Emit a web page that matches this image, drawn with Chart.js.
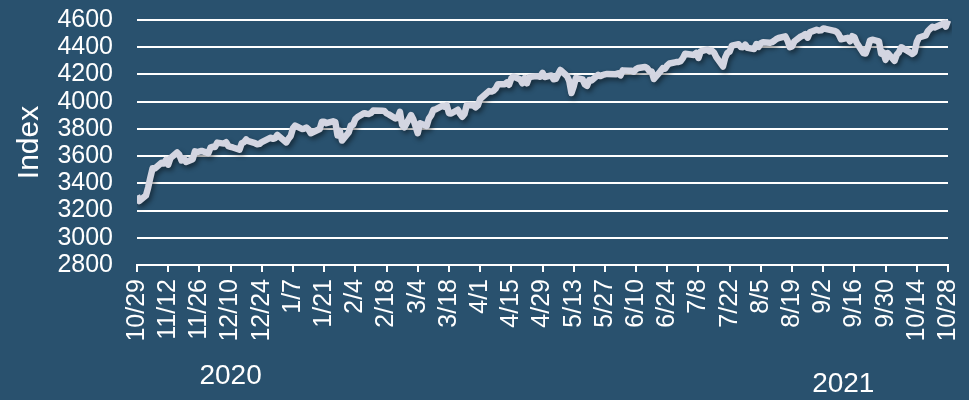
<!DOCTYPE html>
<html>
<head>
<meta charset="utf-8">
<script src="https://cdn.jsdelivr.net/npm/chart.js@4/dist/chart.umd.min.js"></script>
<style>
  html, body { margin: 0; padding: 0; background: #29516e; }
  #wrap { width: 969px; height: 400px; position: relative; }
</style>
</head>
<body>
<div id="wrap"><canvas id="chart"></canvas></div>
<script>
// ── Data ──────────────────────────────────────────────────
const startDate = '2020-10-29';

const dates = [
  '2020-10-29','2020-10-30',
  '2020-11-02','2020-11-03','2020-11-04','2020-11-05','2020-11-06','2020-11-09','2020-11-10','2020-11-11','2020-11-12','2020-11-13',
  '2020-11-16','2020-11-17','2020-11-18','2020-11-19','2020-11-20','2020-11-23','2020-11-24','2020-11-25','2020-11-27','2020-11-30',
  '2020-12-01','2020-12-02','2020-12-03','2020-12-04','2020-12-07','2020-12-08','2020-12-09','2020-12-10','2020-12-11','2020-12-14',
  '2020-12-15','2020-12-16','2020-12-17','2020-12-18','2020-12-21','2020-12-22','2020-12-23','2020-12-24','2020-12-28','2020-12-29',
  '2020-12-30','2020-12-31',
  '2021-01-04','2021-01-05','2021-01-06','2021-01-07','2021-01-08','2021-01-11','2021-01-12','2021-01-13','2021-01-14','2021-01-15',
  '2021-01-19','2021-01-20','2021-01-21','2021-01-22','2021-01-25','2021-01-26','2021-01-27','2021-01-28','2021-01-29',
  '2021-02-01','2021-02-02','2021-02-03','2021-02-04','2021-02-05','2021-02-08','2021-02-09','2021-02-10','2021-02-11','2021-02-12',
  '2021-02-16','2021-02-17','2021-02-18','2021-02-19','2021-02-22','2021-02-23','2021-02-24','2021-02-25','2021-02-26',
  '2021-03-01','2021-03-02','2021-03-03','2021-03-04','2021-03-05','2021-03-08','2021-03-09','2021-03-10','2021-03-11','2021-03-12',
  '2021-03-15','2021-03-16','2021-03-17','2021-03-18','2021-03-19','2021-03-22','2021-03-23','2021-03-24','2021-03-25','2021-03-26',
  '2021-03-29','2021-03-30','2021-03-31',
  '2021-04-01','2021-04-05','2021-04-06','2021-04-07','2021-04-08','2021-04-09','2021-04-12','2021-04-13','2021-04-14','2021-04-15',
  '2021-04-16','2021-04-19','2021-04-20','2021-04-21','2021-04-22','2021-04-23','2021-04-26','2021-04-27','2021-04-28','2021-04-29',
  '2021-04-30',
  '2021-05-03','2021-05-04','2021-05-05','2021-05-06','2021-05-07','2021-05-10','2021-05-11','2021-05-12','2021-05-13','2021-05-14',
  '2021-05-17','2021-05-18','2021-05-19','2021-05-20','2021-05-21','2021-05-24','2021-05-25','2021-05-26','2021-05-27','2021-05-28',
  '2021-06-01','2021-06-02','2021-06-03','2021-06-04','2021-06-07','2021-06-08','2021-06-09','2021-06-10','2021-06-11','2021-06-14',
  '2021-06-15','2021-06-16','2021-06-17','2021-06-18','2021-06-21','2021-06-22','2021-06-23','2021-06-24','2021-06-25','2021-06-28',
  '2021-06-29','2021-06-30',
  '2021-07-01','2021-07-02','2021-07-06','2021-07-07','2021-07-08','2021-07-09','2021-07-12','2021-07-13','2021-07-14','2021-07-15',
  '2021-07-16','2021-07-19','2021-07-20','2021-07-21','2021-07-22','2021-07-23','2021-07-26','2021-07-27','2021-07-28','2021-07-29',
  '2021-07-30',
  '2021-08-02','2021-08-03','2021-08-04','2021-08-05','2021-08-06','2021-08-09','2021-08-10','2021-08-11','2021-08-12','2021-08-13',
  '2021-08-16','2021-08-17','2021-08-18','2021-08-19','2021-08-20','2021-08-23','2021-08-24','2021-08-25','2021-08-26','2021-08-27',
  '2021-08-30','2021-08-31',
  '2021-09-01','2021-09-02','2021-09-03','2021-09-07','2021-09-08','2021-09-09','2021-09-10','2021-09-13','2021-09-14','2021-09-15',
  '2021-09-16','2021-09-17','2021-09-20','2021-09-21','2021-09-22','2021-09-23','2021-09-24','2021-09-27','2021-09-28','2021-09-29',
  '2021-09-30',
  '2021-10-01','2021-10-04','2021-10-05','2021-10-06','2021-10-07','2021-10-08','2021-10-11','2021-10-12','2021-10-13','2021-10-14',
  '2021-10-15','2021-10-18','2021-10-19','2021-10-20','2021-10-21','2021-10-22','2021-10-25','2021-10-26','2021-10-27','2021-10-28'
];

const indexValues = [
  3310.11, 3269.96,
  3310.24, 3369.16, 3443.44, 3510.45, 3509.44, 3550.50, 3545.53, 3572.66, 3537.01, 3585.15,
  3626.91, 3609.53, 3567.79, 3581.87, 3557.54, 3577.59, 3635.41, 3629.65, 3638.35, 3621.63,
  3662.45, 3669.01, 3666.72, 3699.12, 3691.96, 3702.25, 3672.82, 3668.10, 3663.46, 3647.49,
  3694.62, 3701.17, 3722.48, 3709.41, 3694.92, 3687.26, 3690.01, 3703.06, 3735.36, 3727.04,
  3732.04, 3756.07,
  3700.65, 3726.86, 3748.14, 3803.79, 3824.68, 3799.61, 3801.19, 3809.84, 3795.54, 3768.25,
  3798.91, 3851.85, 3853.07, 3841.47, 3855.36, 3849.62, 3750.77, 3787.38, 3714.24,
  3773.86, 3826.31, 3830.17, 3871.74, 3886.83, 3915.59, 3911.23, 3909.88, 3916.38, 3934.83,
  3932.59, 3931.33, 3913.97, 3906.71, 3876.50, 3881.37, 3925.43, 3829.34, 3811.15,
  3901.82, 3870.29, 3819.72, 3768.47, 3841.94, 3821.35, 3875.44, 3898.81, 3939.34, 3943.34,
  3968.94, 3962.71, 3974.12, 3915.46, 3913.10, 3940.59, 3910.52, 3889.14, 3909.52, 3974.54,
  3971.09, 3958.55, 3972.89,
  4019.87, 4077.91, 4073.94, 4079.95, 4097.17, 4128.80, 4127.99, 4141.59, 4124.66, 4170.42,
  4185.47, 4163.26, 4134.94, 4173.42, 4134.98, 4180.17, 4187.62, 4186.72, 4183.18, 4211.47,
  4181.17,
  4192.66, 4164.66, 4167.59, 4201.62, 4232.60, 4188.43, 4152.10, 4063.04, 4112.50, 4173.85,
  4163.29, 4127.83, 4115.68, 4159.12, 4155.86, 4197.05, 4188.13, 4195.99, 4200.88, 4204.11,
  4202.04, 4208.12, 4192.85, 4229.89, 4226.52, 4227.26, 4219.55, 4239.18, 4247.44, 4255.15,
  4246.59, 4223.70, 4221.86, 4166.45, 4224.79, 4246.44, 4241.84, 4266.49, 4280.70, 4290.61,
  4291.80, 4297.50,
  4319.94, 4352.34, 4343.54, 4358.13, 4320.82, 4369.55, 4384.63, 4369.21, 4374.30, 4360.03,
  4327.16, 4258.49, 4323.06, 4358.69, 4367.48, 4411.79, 4422.30, 4401.46, 4400.64, 4419.15,
  4395.26,
  4387.16, 4423.15, 4402.66, 4429.10, 4436.52, 4432.35, 4436.75, 4447.70, 4460.83, 4468.00,
  4479.71, 4448.08, 4400.27, 4405.80, 4441.67, 4479.53, 4486.23, 4496.19, 4470.00, 4509.37,
  4528.79, 4522.68,
  4524.09, 4536.95, 4535.43, 4520.03, 4514.07, 4493.28, 4458.58, 4468.73, 4443.05, 4480.70,
  4473.75, 4432.99, 4357.73, 4354.19, 4395.64, 4448.98, 4455.48, 4443.11, 4352.63, 4359.46,
  4307.54,
  4357.04, 4300.46, 4345.72, 4363.55, 4399.76, 4391.34, 4361.19, 4350.65, 4363.80, 4438.26,
  4471.37, 4486.46, 4519.63, 4536.19, 4549.78, 4544.90, 4566.48, 4574.79, 4551.68, 4596.42
];

// tick labels every 14 calendar days from 10/29
const tickLabels = ['10/29','11/12','11/26','12/10','12/24','1/7','1/21','2/4','2/18','3/4','3/18','4/1','4/15','4/29',
  '5/13','5/27','6/10','6/24','7/8','7/22','8/5','8/19','9/2','9/16','9/30','10/14','10/28'];

const yTicks = [2800, 3000, 3200, 3400, 3600, 3800, 4000, 4200, 4400, 4600];

const years = ['2020', '2021'];

// ── Helpers ───────────────────────────────────────────────
const DAY = 86400000;
const t0 = Date.parse(startDate);
const points = dates.map((d, i) => ({ x: (Date.parse(d) - t0) / DAY, y: indexValues[i] }));

const FONT = "'Liberation Sans', Arial, sans-serif";
const WHITE = '#ffffff';

// year labels under the date ticks (day offset, y pixel)
const yearSpots = [{ day: 42, y: 376 }, { day: 317, y: 384 }];

const yearLabels = {
  id: 'yearLabels',
  afterDraw(chart) {
    const { ctx, scales: { x } } = chart;
    ctx.save();
    ctx.fillStyle = WHITE;
    ctx.font = `28px ${FONT}`;
    ctx.textAlign = 'center';
    ctx.textBaseline = 'middle';
    years.forEach((yr, i) => {
      ctx.fillText(yr, x.getPixelForValue(yearSpots[i].day), yearSpots[i].y);
    });
    ctx.restore();
  },
};

const lineShadow = {
  id: 'lineShadow',
  beforeDatasetsDraw(chart) {
    const ctx = chart.ctx;
    ctx.save();
    ctx.shadowColor = 'rgba(0,0,0,0.45)';
    ctx.shadowBlur = 5;
    ctx.shadowOffsetX = 2;
    ctx.shadowOffsetY = 3;
  },
  afterDatasetsDraw(chart) {
    chart.ctx.restore();
  },
};

// ── Chart ─────────────────────────────────────────────────
new Chart(document.getElementById('chart'), {
  type: 'line',
  data: {
    datasets: [{
      data: points,
      borderColor: '#d3d5e1',
      borderWidth: 6.5,
      pointRadius: 0,
      tension: 0,
      borderJoinStyle: 'round',
      borderCapStyle: 'butt',
      fill: false,
      clip: { left: 0, right: 4, top: 6, bottom: 6 },
    }],
  },
  options: {
    responsive: true,
    maintainAspectRatio: false,
    animation: false,
    layout: { padding: { top: 20, right: 21, left: 0, bottom: 0 } },
    plugins: {
      legend: { display: false },
      tooltip: { enabled: false },
    },
    scales: {
      x: {
        type: 'linear',
        min: 0,
        max: 364,
        afterFit: s => { s.height = 135; s.paddingLeft = 0; s.paddingRight = 0; },
        afterBuildTicks: s => { s.ticks = tickLabels.map((_, i) => ({ value: i * 14 })); },
        ticks: {
          color: WHITE,
          font: { family: FONT, size: 25 },
          minRotation: 90,
          maxRotation: 90,
          autoSkip: false,
          padding: 7,
          callback: (v, i) => tickLabels[i],
        },
        grid: { drawOnChartArea: false, drawTicks: true, tickLength: 7, color: WHITE, lineWidth: 2 },
        border: { display: true, color: WHITE, width: 2 },
      },
      y: {
        min: 2800,
        max: 4600,
        afterFit: s => { s.width = 137; s.paddingTop = 0; s.paddingBottom = 0; },
        afterBuildTicks: s => { s.ticks = yTicks.map(v => ({ value: v })); },
        ticks: {
          autoSkip: false,
          color: WHITE,
          font: { family: FONT, size: 25, lineHeight: 1 },
          padding: 24,
          callback: v => String(v),
        },
        grid: { color: WHITE, lineWidth: 2, drawTicks: false },
        border: { display: false },
        title: {
          display: true,
          text: 'Index',
          color: WHITE,
          font: { family: FONT, size: 30 },
          padding: { top: 12, bottom: 0 },
        },
      },
    },
  },
  plugins: [lineShadow, yearLabels],
});
</script>
</body>
</html>
